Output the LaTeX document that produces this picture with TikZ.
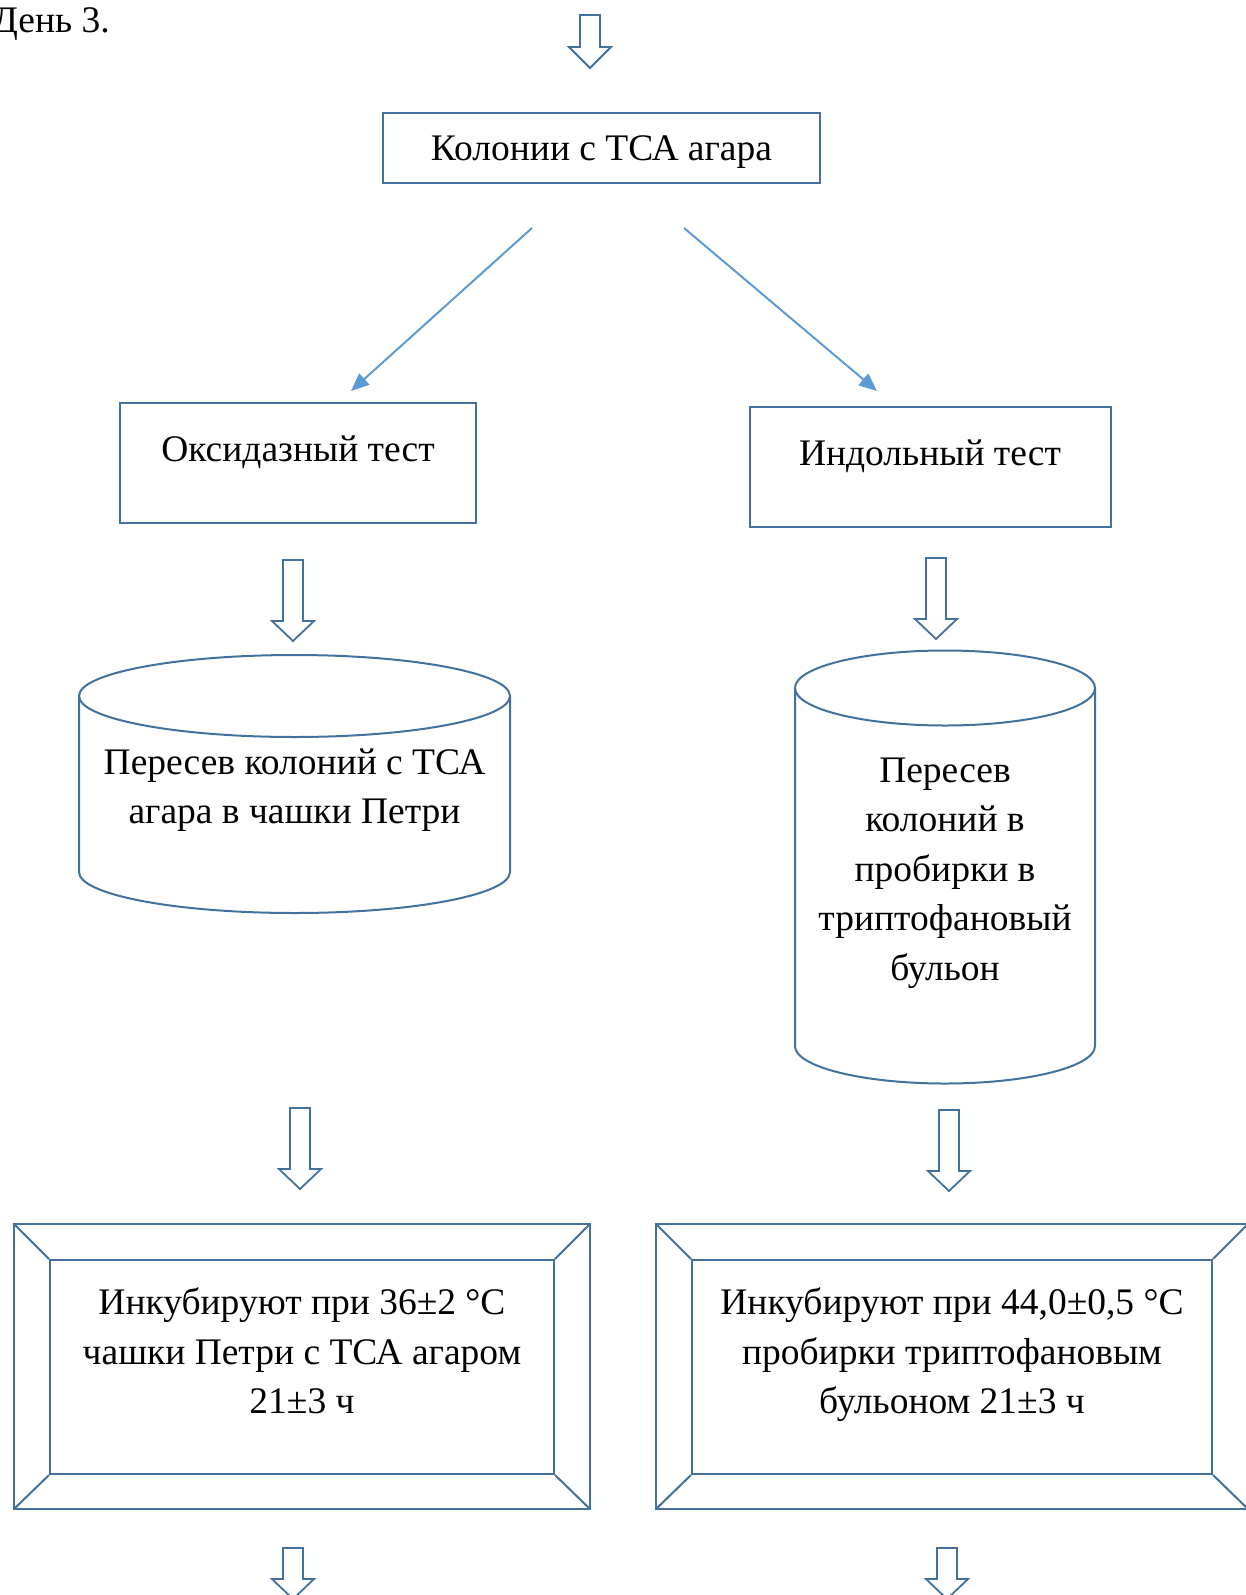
\documentclass[tikz,border=0pt]{standalone}
\usepackage{fontspec}
\setmainfont{Liberation Serif}
\usetikzlibrary{arrows.meta}
\definecolor{outl}{HTML}{41719C}
\definecolor{connc}{HTML}{5B9BD5}
\newcommand{\blockarrow}[4]{%
  \draw[barrow] (#1-10,#2) -- (#1+10,#2) -- (#1+10,#3) -- (#1+21,#3) -- (#1,#4) -- (#1-21,#3) -- (#1-10,#3) -- cycle;}
\begin{document}
\begin{tikzpicture}[x=1pt,y=-1pt,
  txt/.style={font=\fontsize{37.5}{49.6}\selectfont, align=center, inner sep=0pt, text=black},
  boxnode/.style={draw=outl,line width=2pt,rectangle,inner sep=0pt},
  outline/.style={draw=outl,line width=2pt},
  connarrow/.style={draw=connc,line width=2pt,-{Triangle[length=18pt,width=15pt]}},
  barrow/.style={draw=outl,line width=1.8pt,line join=miter}
]
\useasboundingbox (0,0) rectangle (1245,1595);

% day label
\node[txt, anchor=base east] (day) at (110,33) {День 3.};

% top arrow
\blockarrow{590}{15}{47}{68}

% top box
\node[boxnode, minimum width=437pt, minimum height=70pt] (top) at (601.5,148) {};
\node[txt, anchor=base] (toptxt) at (601.5,160) {Колонии с ТСА агара};

% diagonal connectors
\coordinate (c1) at (532,228);
\coordinate (t1) at (351,391);
\coordinate (c2) at (684,228);
\coordinate (t2) at (877,391);
\draw[connarrow] (c1) -- (t1);
\draw[connarrow] (c2) -- (t2);

% test boxes
\node[boxnode, minimum width=356pt, minimum height=120pt] (ox) at (298,463) {};
\node[txt, anchor=base] (oxtxt) at (298,461) {Оксидазный тест};
\node[boxnode, minimum width=361pt, minimum height=120pt] (ind) at (930.5,467) {};
\node[txt, anchor=base] (indtxt) at (930,465) {Индольный тест};

% arrows under test boxes
\blockarrow{293}{560}{621}{641}
\blockarrow{936}{558}{619}{639}

% left cylinder
\draw[outline] (79,696) -- (79,872) arc[start angle=180,end angle=0,x radius=215.5,y radius=41] -- (510,696);
\draw[outline] (294.5,696) ellipse [x radius=215.5,y radius=41];
\node[txt] (cylL) at (294.5,790) {Пересев колоний с ТСА\\агара в чашки Петри};

% right cylinder
\draw[outline] (795,688) -- (795,1046) arc[start angle=180,end angle=0,x radius=150,y radius=37.5] -- (1095,688);
\draw[outline] (945,688) ellipse [x radius=150,y radius=37.5];
\node[txt] (cylR) at (945,873) {Пересев\\колоний в\\пробирки в\\триптофановый\\бульон};

% arrows under cylinders
\blockarrow{300}{1108}{1169}{1189}
\blockarrow{949}{1110}{1171}{1191}

% left bevel box
\draw[outline] (14,1224) rectangle (590,1509);
\node[boxnode, minimum width=504pt, minimum height=214pt] (incL) at (302,1367) {};
\draw[outline] (14,1224) -- (incL.north west);
\draw[outline] (590,1224) -- (incL.north east);
\draw[outline] (14,1509) -- (incL.south west);
\draw[outline] (590,1509) -- (incL.south east);
\node[txt] (incLtxt) at (302,1351) {Инкубируют при 36±2 °C\\чашки Петри с ТСА агаром\\21±3 ч};

% right bevel box
\draw[outline] (656,1224) rectangle (1248,1509);
\node[boxnode, minimum width=520pt, minimum height=214pt] (incR) at (952,1367) {};
\draw[outline] (656,1224) -- (incR.north west);
\draw[outline] (1248,1224) -- (incR.north east);
\draw[outline] (656,1509) -- (incR.south west);
\draw[outline] (1248,1509) -- (incR.south east);
\node[txt] (incRtxt) at (952,1355) {Инкубируют при 44,0±0,5 °C\\пробирки триптофановым\\бульоном 21±3 ч};

% bottom arrows
\blockarrow{293}{1548}{1579}{1599}
\blockarrow{947}{1548}{1579}{1599}
\end{tikzpicture}
\end{document}
